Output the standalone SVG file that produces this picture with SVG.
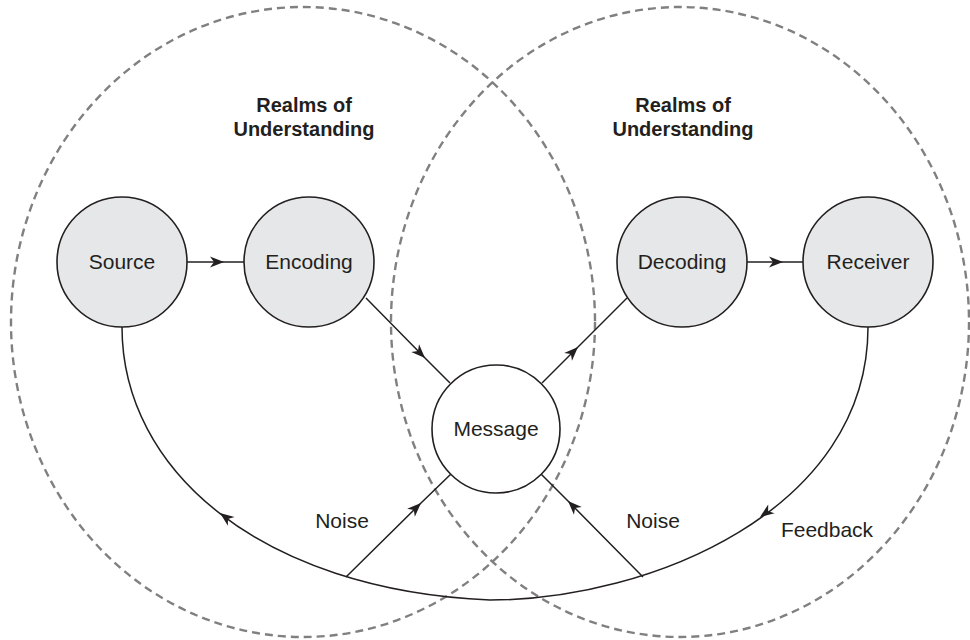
<svg xmlns="http://www.w3.org/2000/svg" width="970" height="640" viewBox="0 0 970 640">
<defs>
<style>
.realm{fill:none;stroke:#808080;stroke-width:2.4;stroke-dasharray:8 5}
.node{fill:#e6e7e8;stroke:#231f20;stroke-width:1.6}
.msg{fill:#ffffff;stroke:#231f20;stroke-width:1.6}
.lbl{font-family:"Liberation Sans",Arial,sans-serif;font-size:21px;fill:#231f20;text-anchor:middle}
.ttl{font-family:"Liberation Sans",Arial,sans-serif;font-size:20px;font-weight:bold;fill:#231f20;text-anchor:middle}
.edge{fill:none;stroke:#231f20;stroke-width:1.5}
.head{fill:#231f20;stroke:none}
</style>
<marker id="arr" viewBox="-15 -7 16 14" markerWidth="16" markerHeight="14" refX="0" refY="0" orient="auto" markerUnits="userSpaceOnUse">
<path d="M0,0 L-14,-5.5 L-10,0 L-14,5.5 Z" fill="#231f20"/>
</marker>
</defs>
<rect width="970" height="640" fill="#ffffff"/>
<g id="realm-left">
<ellipse class="realm" cx="303" cy="322" rx="292" ry="315"/>
<text class="ttl" x="304" y="112">Realms of</text>
<text class="ttl" x="304" y="136">Understanding</text>
</g>
<g id="realm-right">
<ellipse class="realm" cx="680" cy="322" rx="289" ry="315"/>
<text class="ttl" x="683" y="112">Realms of</text>
<text class="ttl" x="683" y="136">Understanding</text>
</g>
<g id="connectors">
<path class="edge" d="M187,262 L224,262 L244,262" marker-mid="url(#arr)"/>
<path class="edge" d="M747,262 L783,262 L804,262" marker-mid="url(#arr)"/>
<path class="edge" d="M366,298 L425,358 L450,383" marker-mid="url(#arr)"/>
<path class="edge" d="M542,383 L578,347 L627,298" marker-mid="url(#arr)"/>
<path class="edge" d="M346,577 L421,503 L451,474" marker-mid="url(#arr)"/>
<path class="edge" d="M643,577 L568,501 L541,474" marker-mid="url(#arr)"/>
<path class="edge" d="M868,327 C868,510 650,600 490,600 C260,590 122,470 122,327"/>
<path class="head" d="M0,0 L-14,-5.5 L-10,0 L-14,5.5 Z" transform="translate(760,517) rotate(144.5)"/>
<path class="head" d="M0,0 L-14,-5.5 L-10,0 L-14,5.5 Z" transform="translate(220,513) rotate(-142.9)"/>
<text class="lbl" x="342" y="528">Noise</text>
<text class="lbl" x="653" y="528">Noise</text>
<text class="lbl" x="827" y="537">Feedback</text>
</g>
<g id="node-source">
<circle class="node" cx="122" cy="262" r="65"/>
<text class="lbl" x="122" y="269">Source</text>
</g>
<g id="node-encoding">
<circle class="node" cx="309" cy="262" r="65"/>
<text class="lbl" x="309" y="269">Encoding</text>
</g>
<g id="node-decoding">
<circle class="node" cx="682" cy="262" r="65"/>
<text class="lbl" x="682" y="269">Decoding</text>
</g>
<g id="node-receiver">
<circle class="node" cx="868" cy="262" r="65"/>
<text class="lbl" x="868" y="269">Receiver</text>
</g>
<g id="node-message">
<circle class="msg" cx="496" cy="429" r="64"/>
<text class="lbl" x="496" y="436">Message</text>
</g>
</svg>
